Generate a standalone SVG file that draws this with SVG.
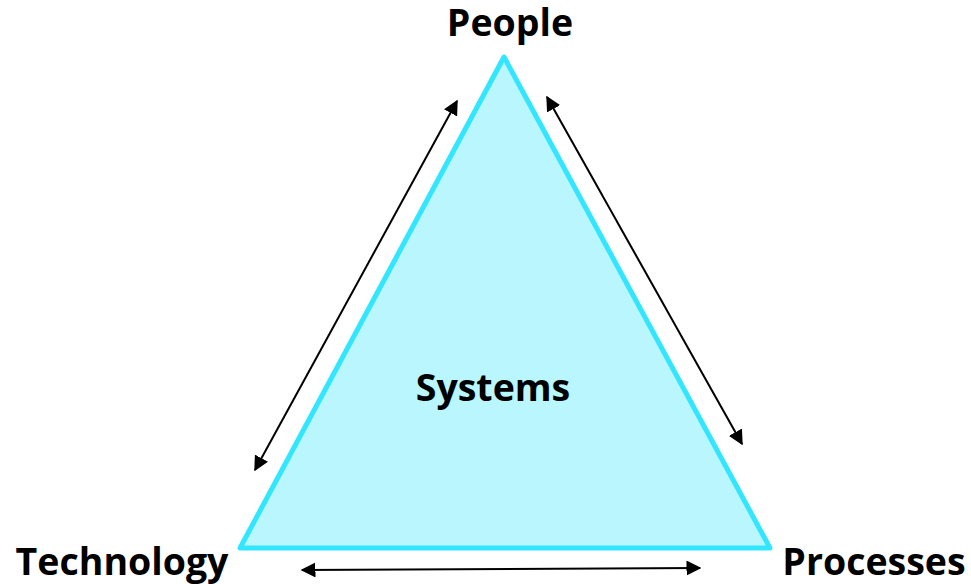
<svg xmlns="http://www.w3.org/2000/svg" width="971" height="584" viewBox="0 0 971 584">
<style>
.lbl{font-family:"Open Sans","Liberation Sans",sans-serif;font-weight:bold;font-size:37.5px;fill:#000;text-anchor:middle}
.con{stroke:#000;stroke-width:2;fill:none;marker-start:url(#ah);marker-end:url(#ah)}
</style>
<defs>
<marker id="ah" viewBox="0 0 10 10" refX="9" refY="5" markerWidth="7.5" markerHeight="7.5" markerUnits="strokeWidth" orient="auto-start-reverse">
<path d="M0,0 L10,5 L0,10 z" fill="#000"/>
</marker>
</defs>
<rect width="971" height="584" fill="#fff"/>
<g id="systems">
<polygon points="504,57 240,548 770,548" fill="#B9F6FD" stroke="#33E6FF" stroke-width="5" stroke-linejoin="round"/>
<text class="lbl" x="493" y="401">Systems</text>
</g>
<g id="people"><text class="lbl" x="510" y="36">People</text></g>
<g id="technology"><text class="lbl" x="122" y="575">Technology</text></g>
<g id="processes"><text class="lbl" x="874" y="575">Processes</text></g>
<g id="connectors">
<line class="con" x1="457" y1="101" x2="255" y2="470"/>
<line class="con" x1="547" y1="97" x2="742" y2="444"/>
<line class="con" x1="302" y1="570" x2="700" y2="568"/>
</g>
</svg>
